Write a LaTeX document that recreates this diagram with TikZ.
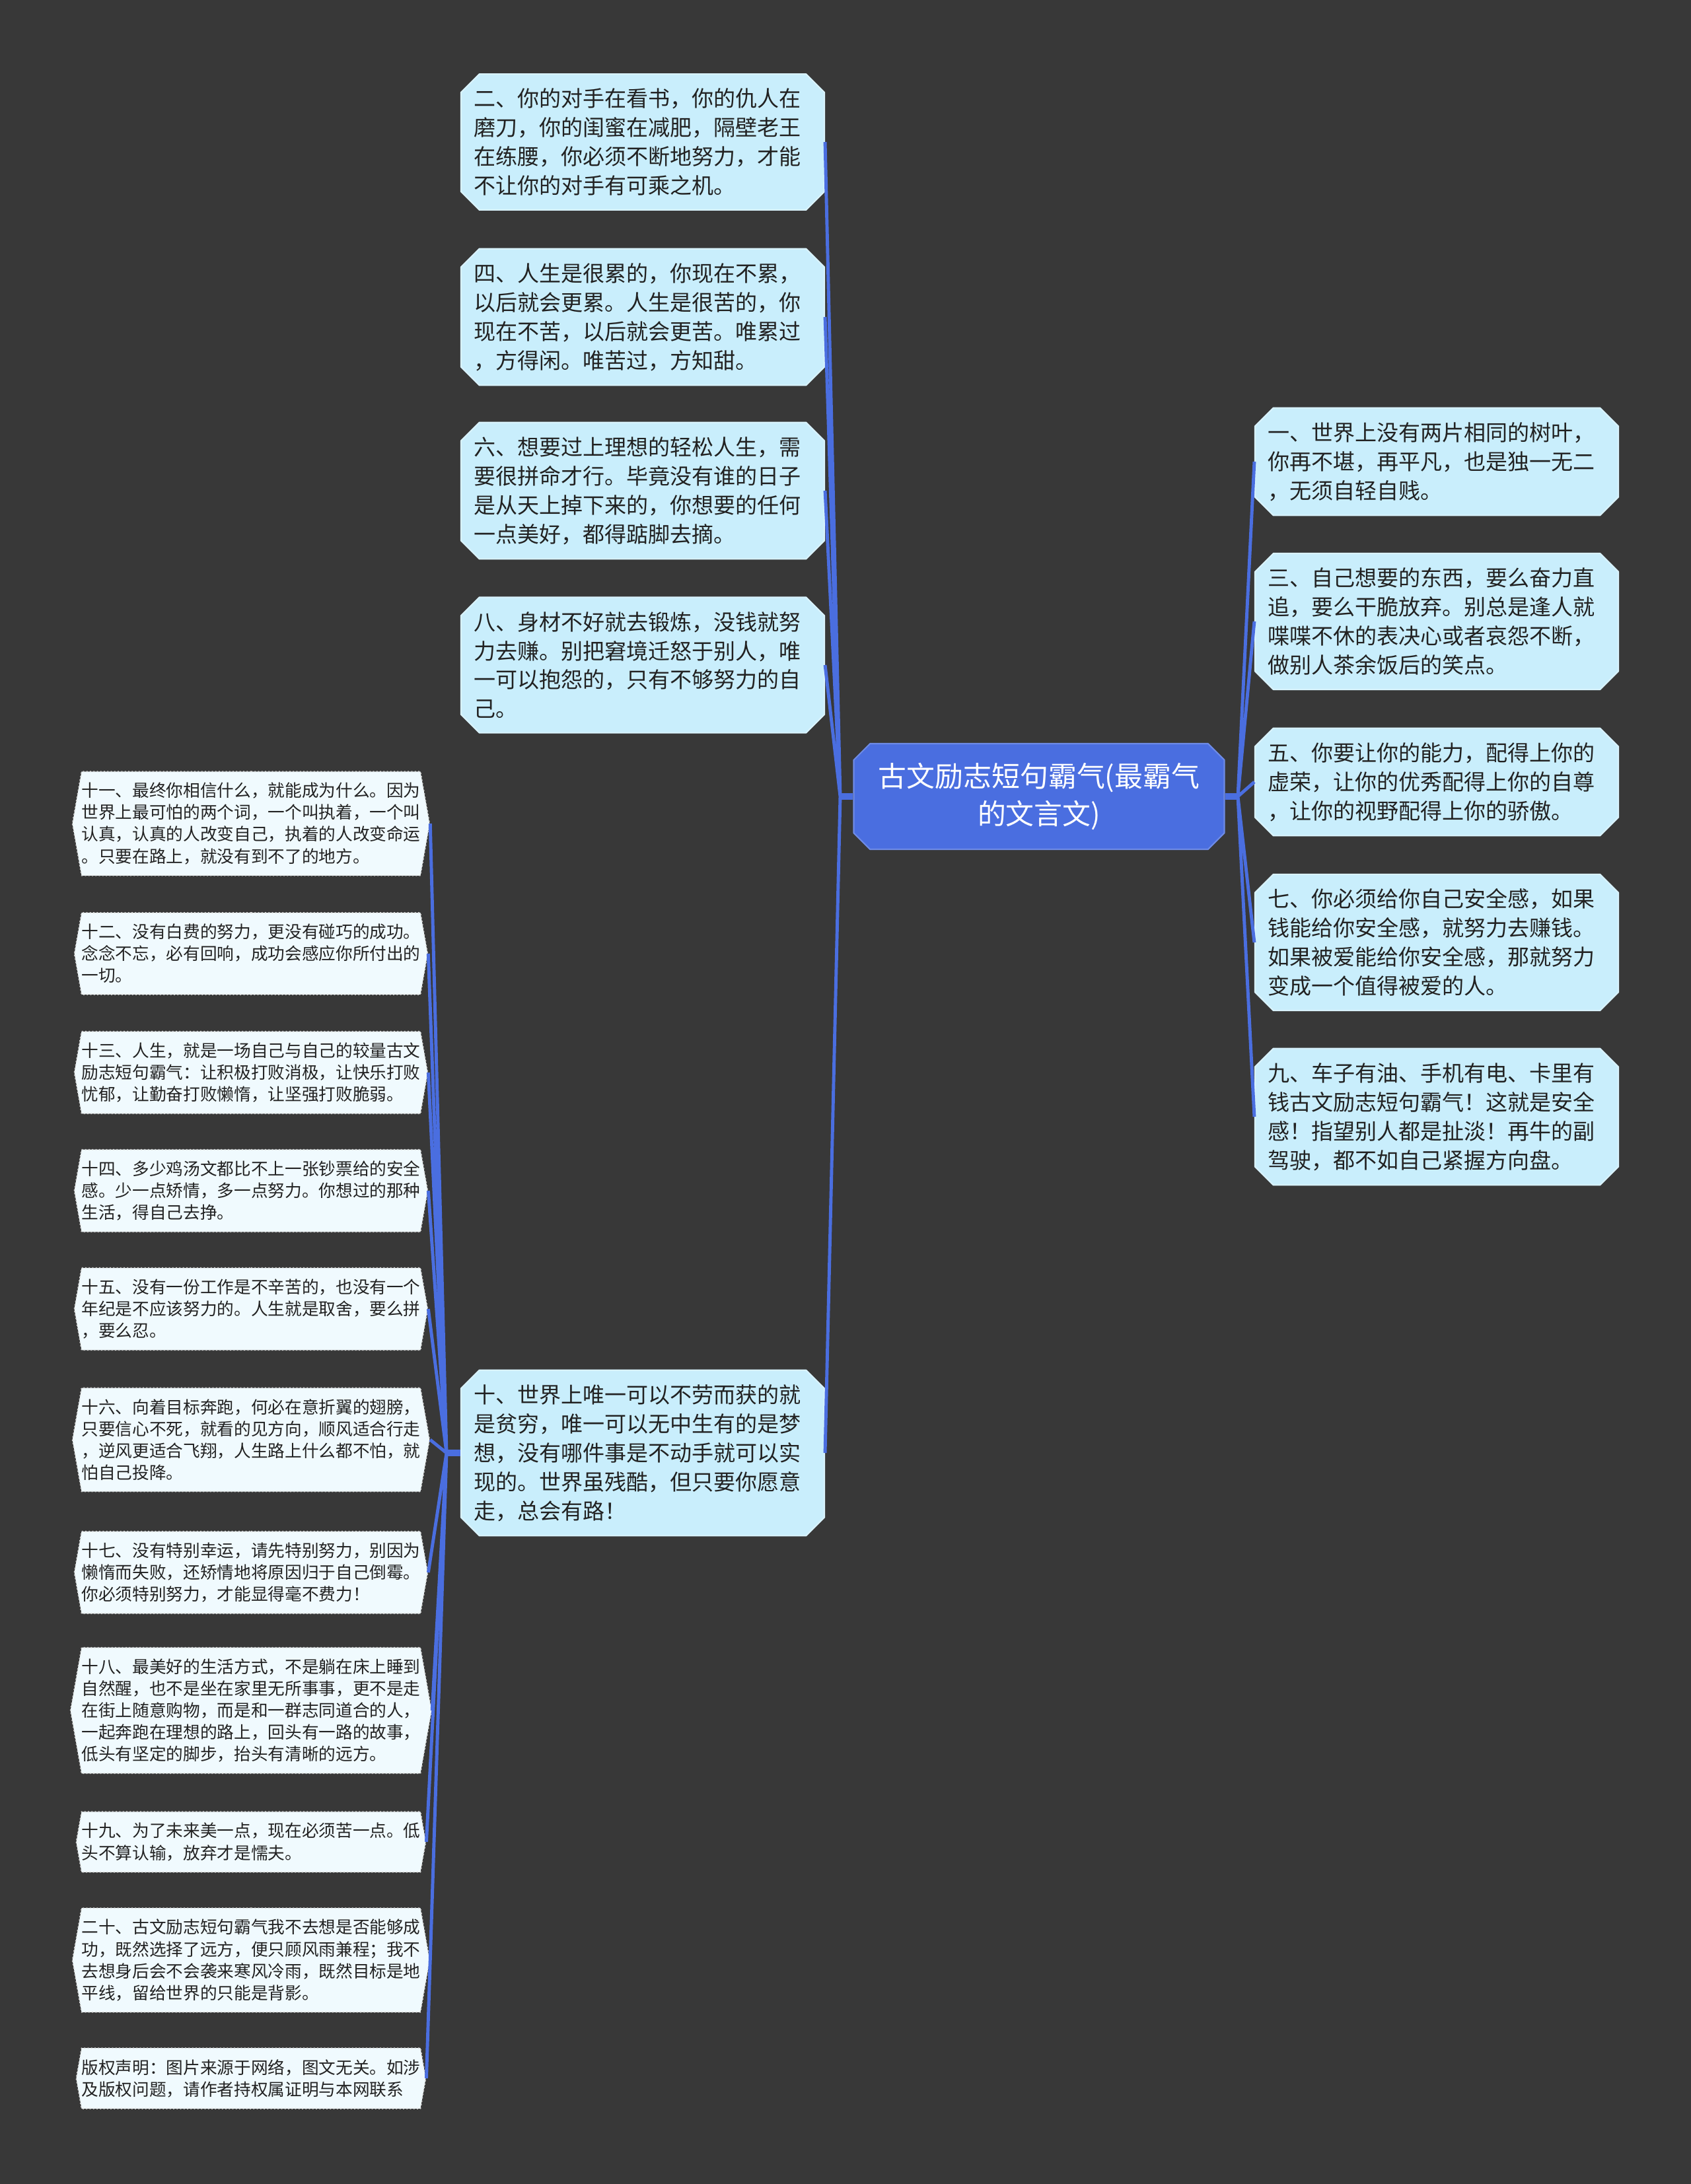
\documentclass[tikz,border=0pt]{standalone}
\usepackage{fontspec}
\setmainfont{Noto Sans CJK SC}
\usetikzlibrary{shapes.misc, shapes.symbols}

\definecolor{bgdark}{HTML}{383838}
\definecolor{rootblue}{HTML}{4A6EE0}
\definecolor{topicfill}{HTML}{C9EEFC}
\definecolor{leaffill}{HTML}{F0FAFE}
\definecolor{ink}{HTML}{222222}

\begin{document}
\begin{tikzpicture}[
  line join=round,
  root/.style={
    chamfered rectangle,
    chamfered rectangle xsep=0.12cm,
    fill=rootblue,
    draw=rootblue!80!white,
    line width=0.6pt,
    text=white,
    align=center,
    minimum width=5.61cm,
    minimum height=1.60cm,
    font=\fontsize{12.2pt}{16.2pt}\selectfont
  },
  topic/.style={
    chamfered rectangle,
    chamfered rectangle xsep=0.15cm,
    fill=topicfill,
    draw=white!85!cyan,
    line width=0.6pt,
    text=ink,
    align=left,
    text width=5.12cm,
    inner xsep=0.04cm,
    inner ysep=0.09cm,
    font=\fontsize{9.4pt}{12.5pt}\selectfont
  },
  leaf/.style={
    signal,
    signal to=east and west,
    signal pointer angle=160,
    fill=leaffill,
    draw=white!70!gray,
    densely dotted,
    line width=0.5pt,
    text=ink,
    align=left,
    text width=5.13cm,
    inner xsep=0pt,
    inner ysep=0.17cm,
    font=\fontsize{7.3pt}{9.4pt}\selectfont
  },
  link/.style={draw=rootblue, line width=1.4pt},
  stub/.style={draw=rootblue, line width=3pt}
]

% --- Canvas ---
\fill[bgdark] (0,0) rectangle (25.6,-33.07);
\useasboundingbox (0,0) rectangle (25.6,-33.07);

% --- Column positions ---
\pgfmathsetmacro{\xl}{3.80}    % leaf column
\pgfmathsetmacro{\xm}{9.73}    % left topic column
\pgfmathsetmacro{\xr}{21.75}   % right topic column

% --- Root ---
\node[root] (root) at (15.73,-12.06) {古文励志短句霸气(最霸气\\的文言文)};

% --- Left topics ---
\node[topic] (n2) at (\xm,-2.15) {二、你的对手在看书，你的仇人在\\磨刀，你的闺蜜在减肥，隔壁老王\\在练腰，你必须不断地努力，才能\\不让你的对手有可乘之机。};
\node[topic] (n4) at (\xm,-4.80) {四、人生是很累的，你现在不累，\\以后就会更累。人生是很苦的，你\\现在不苦，以后就会更苦。唯累过\\，方得闲。唯苦过，方知甜。};
\node[topic] (n6) at (\xm,-7.43) {六、想要过上理想的轻松人生，需\\要很拼命才行。毕竟没有谁的日子\\是从天上掉下来的，你想要的任何\\一点美好，都得踮脚去摘。};
\node[topic] (n8) at (\xm,-10.07) {八、身材不好就去锻炼，没钱就努\\力去赚。别把窘境迁怒于别人，唯\\一可以抱怨的，只有不够努力的自\\己。};
\node[topic] (n10) at (\xm,-22.00) {十、世界上唯一可以不劳而获的就\\是贫穷，唯一可以无中生有的是梦\\想，没有哪件事是不动手就可以实\\现的。世界虽残酷，但只要你愿意\\走，总会有路！};

% --- Right topics ---
\node[topic] (n1) at (\xr,-6.99) {一、世界上没有两片相同的树叶，\\你再不堪，再平凡，也是独一无二\\，无须自轻自贱。};
\node[topic] (n3) at (\xr,-9.41) {三、自己想要的东西，要么奋力直\\追，要么干脆放弃。别总是逢人就\\喋喋不休的表决心或者哀怨不断，\\做别人茶余饭后的笑点。};
\node[topic] (n5) at (\xr,-11.84) {五、你要让你的能力，配得上你的\\虚荣，让你的优秀配得上你的自尊\\，让你的视野配得上你的骄傲。};
\node[topic] (n7) at (\xr,-14.27) {七、你必须给你自己安全感，如果\\钱能给你安全感，就努力去赚钱。\\如果被爱能给你安全感，那就努力\\变成一个值得被爱的人。};
\node[topic] (n9) at (\xr,-16.91) {九、车子有油、手机有电、卡里有\\钱古文励志短句霸气！这就是安全\\感！指望别人都是扯淡！再牛的副\\驾驶，都不如自己紧握方向盘。};

% --- Leaves under n10 ---
\node[leaf] (n11) at (\xl,-12.47) {十一、最终你相信什么，就能成为什么。因为\\世界上最可怕的两个词，一个叫执着，一个叫\\认真，认真的人改变自己，执着的人改变命运\\。只要在路上，就没有到不了的地方。};
\node[leaf] (n12) at (\xl,-14.44) {十二、没有白费的努力，更没有碰巧的成功。\\念念不忘，必有回响，成功会感应你所付出的\\一切。};
\node[leaf] (n13) at (\xl,-16.24) {十三、人生，就是一场自己与自己的较量古文\\励志短句霸气：让积极打败消极，让快乐打败\\忧郁，让勤奋打败懒惰，让坚强打败脆弱。};
\node[leaf] (n14) at (\xl,-18.03) {十四、多少鸡汤文都比不上一张钞票给的安全\\感。少一点矫情，多一点努力。你想过的那种\\生活，得自己去挣。};
\node[leaf] (n15) at (\xl,-19.82) {十五、没有一份工作是不辛苦的，也没有一个\\年纪是不应该努力的。人生就是取舍，要么拼\\，要么忍。};
\node[leaf] (n16) at (\xl,-21.80) {十六、向着目标奔跑，何必在意折翼的翅膀，\\只要信心不死，就看的见方向，顺风适合行走\\，逆风更适合飞翔，人生路上什么都不怕，就\\怕自己投降。};
\node[leaf] (n17) at (\xl,-23.81) {十七、没有特别幸运，请先特别努力，别因为\\懒惰而失败，还矫情地将原因归于自己倒霉。\\你必须特别努力，才能显得毫不费力！};
\node[leaf] (n18) at (\xl,-25.90) {十八、最美好的生活方式，不是躺在床上睡到\\自然醒，也不是坐在家里无所事事，更不是走\\在街上随意购物，而是和一群志同道合的人，\\一起奔跑在理想的路上，回头有一路的故事，\\低头有坚定的脚步，抬头有清晰的远方。};
\node[leaf] (n19) at (\xl,-27.89) {十九、为了未来美一点，现在必须苦一点。低\\头不算认输，放弃才是懦夫。};
\node[leaf] (n20) at (\xl,-29.68) {二十、古文励志短句霸气我不去想是否能够成\\功，既然选择了远方，便只顾风雨兼程；我不\\去想身后会不会袭来寒风冷雨，既然目标是地\\平线，留给世界的只能是背影。};
\node[leaf] (n21) at (\xl,-31.47) {版权声明：图片来源于网络，图文无关。如涉\\及版权问题，请作者持权属证明与本网联系};

% --- Junctions ---
\coordinate (jl) at (12.72,-12.06);
\coordinate (jr) at (18.74,-12.06);
\coordinate (jt) at (6.76,-22.00);

% --- Links: root -> left topics ---
\draw[stub] (root.west) -- (jl);
\draw[link] (jl) -- (n2.east)  (jl) -- (n4.east)  (jl) -- (n6.east)
            (jl) -- (n8.east)  (jl) -- (n10.east);

% --- Links: root -> right topics ---
\draw[stub] (root.east) -- (jr);
\draw[link] (jr) -- (n1.west)  (jr) -- (n3.west)  (jr) -- (n5.west)
            (jr) -- (n7.west)  (jr) -- (n9.west);

% --- Links: n10 -> leaves ---
\draw[stub] (n10.west) -- (jt);
\draw[link] (jt) -- (n11.east)  (jt) -- (n12.east)  (jt) -- (n13.east)
            (jt) -- (n14.east)  (jt) -- (n15.east)  (jt) -- (n16.east)
            (jt) -- (n17.east)  (jt) -- (n18.east)  (jt) -- (n19.east)
            (jt) -- (n20.east)  (jt) -- (n21.east);

\end{tikzpicture}
\end{document}
